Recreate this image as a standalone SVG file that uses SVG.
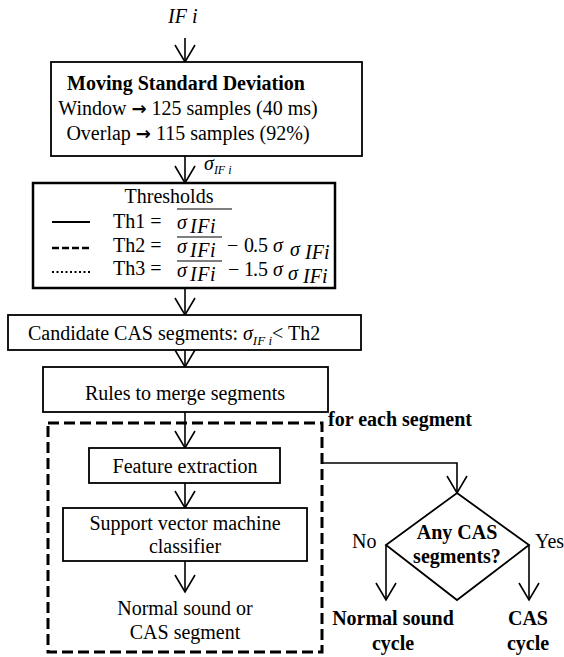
<svg xmlns="http://www.w3.org/2000/svg" width="564" height="657" viewBox="0 0 564 657" font-family="'Liberation Serif', 'Times New Roman', Times, 'DejaVu Serif', serif">
<defs>
<marker id="v" markerUnits="userSpaceOnUse" markerWidth="22" markerHeight="24" viewBox="-19 -11 22 22" refX="0" refY="0" orient="auto" overflow="visible">
<path d="M-17,-10 L0,0 L-17,10" fill="none" stroke="#000" stroke-width="1.6"/>
</marker>
<style>
text{font-family:'Liberation Serif','Times New Roman',Times,'DejaVu Serif',serif;fill:#000;font-size:20px}
.b{font-weight:bold}
.i{font-style:italic}
.c{text-anchor:middle}
.ar2{font-family:'DejaVu Sans',sans-serif;font-size:18px;font-weight:bold}
.box{fill:#fff;stroke:#000;stroke-width:1.8}
.con{fill:none;stroke:#000;stroke-width:1.6}
.ar{marker-end:url(#v)}
</style>
</defs>
<rect width="564" height="657" fill="#fff"/>

<g id="connectors">
<line class="con ar" x1="185" y1="38" x2="185" y2="62"/>
<line class="con ar" x1="185" y1="156" x2="185" y2="183"/>
<line class="con ar" x1="185" y1="288" x2="185" y2="315"/>
<line class="con ar" x1="185" y1="350" x2="185" y2="367"/>
<line class="con ar" x1="185" y1="412" x2="185" y2="448"/>
<line class="con ar" x1="185" y1="483" x2="185" y2="508"/>
<line class="con ar" x1="185" y1="561" x2="185" y2="592"/>
<polyline class="con ar" points="322,463 457,463 457,493"/>
<line class="con ar" x1="386" y1="545" x2="386" y2="600"/>
<line class="con ar" x1="529" y1="545" x2="529" y2="600"/>
</g>

<g id="input">
<text class="i" x="168" y="23">IF i</text>
</g>

<g id="msd">
<rect class="box" x="51" y="62" width="311" height="94"/>
<text class="b c" x="186" y="90">Moving Standard  Deviation</text>
<text class="c" x="188" y="115">Window <tspan class="ar2">→</tspan> 125 samples (40 ms)</text>
<text class="c" x="188" y="140">Overlap <tspan class="ar2">→</tspan> 115 samples (92%)</text>
</g>

<g id="sigma-label">
<text class="i" x="204" y="170" font-size="18">σ<tspan font-size="12" dy="4">IF i</tspan></text>
</g>

<g id="thresholds">
<rect x="33" y="183" width="302" height="105" fill="#fff" stroke="#000" stroke-width="2.5"/>
<text class="c" x="169" y="203">Thresholds</text>
<line x1="52" y1="222" x2="90" y2="222" stroke="#000" stroke-width="2"/>
<line x1="52" y1="248" x2="90" y2="248" stroke="#000" stroke-width="2.4" stroke-dasharray="7,3"/>
<line x1="52" y1="272" x2="90" y2="272" stroke="#000" stroke-width="2" stroke-dasharray="2,2.5"/>
<text x="113" y="228">Th1 =</text>
<text x="113" y="252">Th2 =</text>
<text x="113" y="275">Th3 =</text>
<line x1="177" y1="209" x2="232" y2="209" stroke="#000" stroke-width="1.2"/>
<line x1="177" y1="237" x2="222" y2="237" stroke="#000" stroke-width="1.2"/>
<line x1="177" y1="261" x2="222" y2="261" stroke="#000" stroke-width="1.2"/>
<text class="i" x="177" y="229" font-size="15">σ</text>
<text class="i" x="190" y="233" font-size="14" letter-spacing="0.6">IFi</text>
<text class="i" x="177" y="253" font-size="15">σ</text>
<text class="i" x="190" y="257" font-size="14" letter-spacing="0.6">IFi</text>
<text class="i" x="177" y="277" font-size="15">σ</text>
<text class="i" x="190" y="281" font-size="14" letter-spacing="0.6">IFi</text>
<text x="227" y="252" font-size="15">−</text>
<text x="244" y="252" font-size="15">0</text>
<text x="253" y="252" font-size="15">.5</text>
<text class="i" x="273" y="252" font-size="15">σ</text>
<text class="i" x="290" y="256" font-size="13">σ</text>
<text class="i" x="305" y="259" font-size="12">IFi</text>
<text x="228" y="276" font-size="15">−</text>
<text x="244" y="276" font-size="15">1</text>
<text x="253" y="276" font-size="15">.5</text>
<text class="i" x="273" y="276" font-size="15">σ</text>
<text class="i" x="288" y="280" font-size="13">σ</text>
<text class="i" x="303" y="283" font-size="12">IFi</text>
</g>

<g id="candidate">
<rect class="box" x="8" y="315" width="353" height="35"/>
<text x="28" y="340">Candidate CAS segments: <tspan class="i">σ</tspan><tspan class="i" font-size="13" dy="5">IF i</tspan><tspan dy="-5">&lt; Th2</tspan></text>
</g>

<g id="rules">
<rect class="box" x="43" y="367" width="285" height="45"/>
<text class="c" x="185" y="400">Rules to merge segments</text>
</g>

<g id="loop">
<rect x="48" y="423" width="274" height="229" fill="none" stroke="#000" stroke-width="3" stroke-dasharray="11,5"/>
<text class="b" x="328" y="426">for each segment</text>
</g>

<g id="feature">
<rect class="box" x="89" y="448" width="191" height="35"/>
<text class="c" x="185" y="473">Feature extraction</text>
</g>

<g id="svm">
<rect class="box" x="63" y="508" width="244" height="53"/>
<text class="c" x="185" y="530">Support vector machine</text>
<text class="c" x="185" y="553">classifier</text>
</g>

<g id="output">
<text class="c" x="185" y="615">Normal sound or</text>
<text class="c" x="185" y="639">CAS segment</text>
</g>

<g id="decision">
<polygon points="457,493 529,545 457,600 386,545" fill="none" stroke="#000" stroke-width="1.8"/>
<text class="b c" x="457" y="539">Any CAS</text>
<text class="b c" x="457" y="563">segments?</text>
<text x="352" y="548">No</text>
<text x="535" y="548">Yes</text>
</g>

<g id="normal-cycle">
<text class="b c" x="393" y="625">Normal sound</text>
<text class="b c" x="393" y="650">cycle</text>
</g>

<g id="cas-cycle">
<text class="b c" x="528" y="625">CAS</text>
<text class="b c" x="528" y="650">cycle</text>
</g>
</svg>
